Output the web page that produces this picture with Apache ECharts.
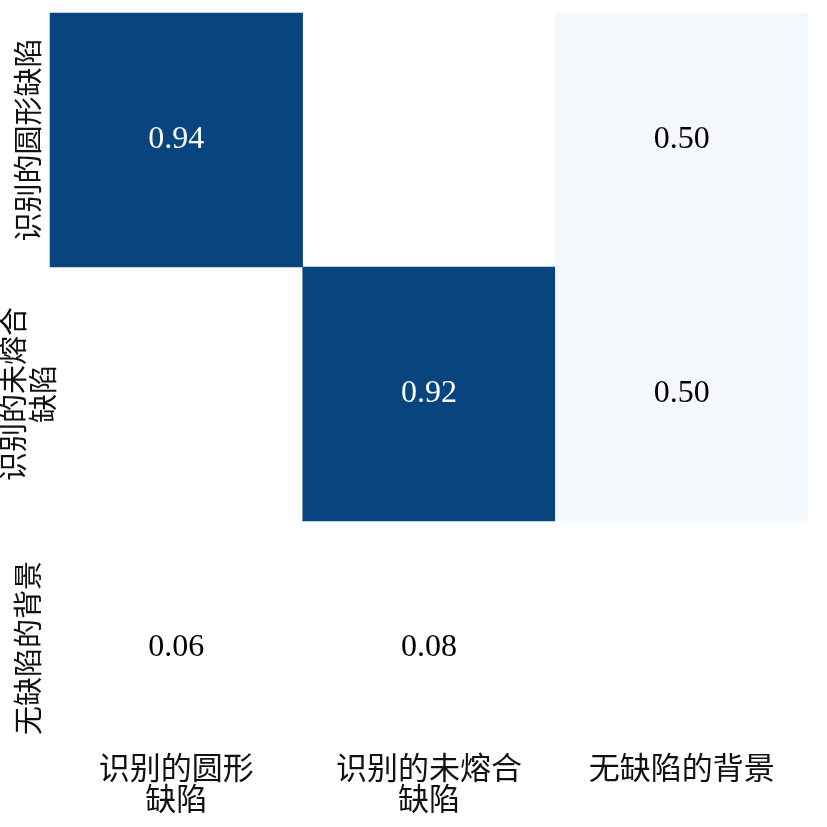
<!DOCTYPE html>
<html>
<head>
<meta charset="utf-8">
<script src="https://cdn.jsdelivr.net/npm/echarts@6/dist/echarts.min.js"></script>
<style>html,body{margin:0;padding:0;background:#fff}#c{width:827px;height:827px}</style>
</head>
<body>
<div id="c"></div>
<script>
var xCategories = ['识别的圆形\n缺陷', '识别的未熔合\n缺陷', '无缺陷的背景'];
var yCategories = ['识别的圆形缺陷', '识别的未熔合\n缺陷', '无缺陷的背景'];
var row0 = [0.94, 0, 0.50];
var row1 = [0, 0.92, 0.50];
var row2 = [0.06, 0.08, 0];
var rows = [row0, row1, row2];

var data = [];
rows.forEach(function (r, yi) {
  r.forEach(function (v, xi) { data.push([xi, yi, v]); });
});

var cjk = '"Noto Sans CJK SC", sans-serif';
var chart = echarts.init(document.getElementById('c'));
chart.setOption({
  backgroundColor: '#fff',
  animation: false,
  grid: { left: 50, right: 19, top: 13, bottom: 52, containLabel: false, outerBoundsMode: 'none' },
  xAxis: {
    type: 'category', data: xCategories, z: 10,
    axisLine: { show: false }, axisTick: { show: false }, splitLine: { show: false },
    axisLabel: { interval: 0, margin: -23, color: '#111', fontFamily: cjk, fontSize: 31, lineHeight: 31, verticalAlign: 'top' }
  },
  yAxis: {
    type: 'category', data: yCategories, inverse: true, z: 10,
    axisLine: { show: false }, axisTick: { show: false }, splitLine: { show: false },
    axisLabel: { interval: 0, rotate: 90, margin: 22, verticalAlign: 'middle', align: 'center', color: '#111', fontFamily: cjk, fontSize: 29, lineHeight: 30 }
  },
  visualMap: {
    show: false, type: 'piecewise', dimension: 2,
    pieces: [
      { lt: 0.3, color: 'rgba(255,255,255,0)' },
      { gte: 0.3, lt: 0.7, color: '#f4f8fc' },
      { gte: 0.7, color: '#08457f' }
    ]
  },
  series: [{
    type: 'heatmap', data: data,
    itemStyle: { borderWidth: 0 },
    label: {
      show: true,
      formatter: function (p) {
        var v = p.value[2];
        if (!v) return '';
        return (v > 0.7 ? '{w|' : '{b|') + v.toFixed(2) + '}';
      },
      rich: {
        w: { color: '#fff', fontFamily: '"Liberation Serif", serif', fontSize: 32 },
        b: { color: '#000', fontFamily: '"Liberation Serif", serif', fontSize: 32 }
      }
    }
  }]
});
</script>
</body>
</html>
